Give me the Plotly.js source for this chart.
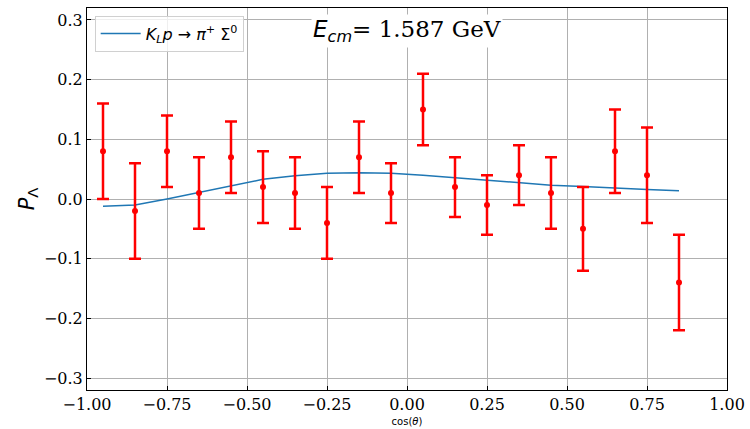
<!DOCTYPE html>
<html><head><meta charset="utf-8">
<script src="https://cdn.plot.ly/plotly-3.0.1.min.js"></script>
<style>body{margin:0;padding:0;background:#fff}#chart{width:750px;height:429px}</style>
</head><body><div id="chart"></div>
<script>
const cosTheta = [-0.95,-0.85,-0.75,-0.65,-0.55,-0.45,-0.35,-0.25,-0.15,-0.05,0.05,0.15,0.25,0.35,0.45,0.55,0.65,0.75,0.85];
const polData = [0.08,-0.02,0.08,0.01,0.07,0.02,0.01,-0.04,0.07,0.01,0.15,0.02,-0.01,0.04,0.01,-0.05,0.08,0.04,-0.14];
const polErr = [0.08,0.08,0.06,0.06,0.06,0.06,0.06,0.06,0.06,0.05,0.06,0.05,0.05,0.05,0.06,0.07,0.07,0.08,0.08];
const modelX = [-0.95,-0.85,-0.75,-0.65,-0.55,-0.45,-0.35,-0.25,-0.15,-0.05,0.05,0.15,0.25,0.35,0.45,0.55,0.65,0.75,0.85];
const modelY = [-0.012,-0.010,0.000,0.011,0.022,0.033,0.039,0.043,0.044,0.043,0.040,0.036,0.032,0.027,0.023,0.021,0.018,0.016,0.014];
const xTicks = [-1.0,-0.75,-0.5,-0.25,0,0.25,0.5,0.75,1.0];
const xTickText = ['−1.00','−0.75','−0.50','−0.25','0.00','0.25','0.50','0.75','1.00'];
const yTicks = [-0.3,-0.2,-0.1,0,0.1,0.2,0.3];
const yTickText = ['−0.3','−0.2','−0.1','0.0','0.1','0.2','0.3'];

const traces = [
  {x: modelX, y: modelY, mode: 'lines', type: 'scatter',
   line: {color: '#1f77b4', width: 1.5},
   name: '<i>K<sub>L</sub>p</i> → <i>π</i><sup>+</sup> Σ<sup>0</sup>'},
  {x: cosTheta, y: polData, mode: 'markers', type: 'scatter',
   marker: {color: 'red', size: 6},
   error_y: {type: 'data', array: polErr, visible: true, color: 'red', thickness: 2.5, width: 6},
   showlegend: false}
];
const axisCommon = {
  showline: true, mirror: true, linecolor: 'black', linewidth: 1,
  ticks: 'inside', ticklen: 4, tickcolor: 'black',
  showgrid: true, gridcolor: '#b0b0b0', gridwidth: 1, zeroline: false,
  tickfont: {family: 'DejaVu Serif', size: 16, color: 'black'}
};
const layout = {
  width: 750, height: 429,
  margin: {l: 87, r: 23, t: 8, b: 39},
  paper_bgcolor: 'white', plot_bgcolor: 'white',
  xaxis: Object.assign({}, axisCommon, {range: [-1, 1], tickvals: xTicks, ticktext: xTickText,
    title: {text: 'cos(<i>θ</i>)', font: {family: 'DejaVu Sans', size: 10, color: 'black'}, standoff: 4}}),
  yaxis: Object.assign({}, axisCommon, {range: [-0.32, 0.32], tickvals: yTicks, ticktext: yTickText,
    title: {text: '<i>P</i><sub>Λ</sub>', font: {family: 'DejaVu Sans', size: 21, color: 'black'}, standoff: 3}}),
  legend: {x: 0.012, y: 0.98, xanchor: 'left', yanchor: 'top',
    bgcolor: 'rgba(255,255,255,0.8)', bordercolor: '#d0d0d0', borderwidth: 1,
    itemwidth: 40,
    font: {family: 'DejaVu Sans', size: 16, color: 'black'}},
  annotations: [{
    xref: 'paper', yref: 'paper', x: 0.5, y: 0.985, xanchor: 'center', yanchor: 'top', showarrow: false,
    bgcolor: 'white',
    text: '<span style="font-family:DejaVu Sans"><i>E<sub>cm</sub></i></span>= 1.587 GeV',
    font: {family: 'DejaVu Serif', size: 23, color: 'black'}
  }]
};
Plotly.newPlot('chart', traces, layout, {displayModeBar: false});
</script></body></html>
